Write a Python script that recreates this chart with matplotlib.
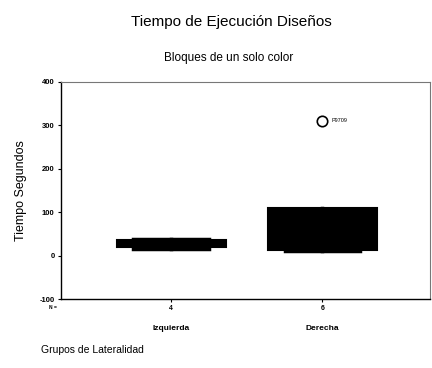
import matplotlib

matplotlib.use("Agg")
import matplotlib.pyplot as plt
import numpy as np

plt.rcParams["font.family"] = ["Liberation Sans", "DejaVu Sans"]

grupos = ["Izquierda", "Derecha"]
n_casos = [4, 6]
bigote_inf = [14, 10]
q1 = [19, 13]
mediana = [27, 40]
q3 = [35, 110]
bigote_sup = [39, 108]
atipico_valor = 310
atipico_etiqueta = "P9709"
yticks = [-100, 0, 100, 200, 300, 400]

fig = plt.figure(figsize=(4.32, 3.68), dpi=100)
ax = fig.add_axes([0.141, 0.1875, 0.854, 0.59])

x = np.arange(1, len(grupos) + 1)
stats = []
for i, g in enumerate(grupos):
    stats.append({"label": g, "whislo": bigote_inf[i], "q1": q1[i], "med": mediana[i],
                  "q3": q3[i], "whishi": bigote_sup[i], "fliers": []})
ax.bxp(stats, positions=x, widths=0.72, patch_artist=True, showfliers=False,
       boxprops=dict(facecolor="black", edgecolor="black", linewidth=1.5),
       medianprops=dict(color="black", linewidth=1.5),
       whiskerprops=dict(color="black", linewidth=2.5),
       capprops=dict(color="black", linewidth=2.5), capwidths=0.5)

ax.plot([x[1]], [atipico_valor], marker="o", markersize=7.5, markerfacecolor="white",
        markeredgecolor="black", markeredgewidth=1.2, linestyle="none")
ax.text(x[1] + 0.06, atipico_valor, atipico_etiqueta, fontsize=4, va="center", ha="left")

ax.set_xlim(0.27, 2.71)
ax.set_ylim(-100, 400)
ax.set_yticks(yticks)
ax.set_yticklabels([str(v) for v in yticks], fontsize=5.5, fontweight="bold")
ax.set_xticks(x)
ax.set_xticklabels([str(n) for n in n_casos], fontsize=5, fontweight="bold")
ax.tick_params(axis="both", length=2.5, width=0.8, pad=2)
for s in ["top", "right"]:
    ax.spines[s].set_color("#777777")
    ax.spines[s].set_linewidth(0.8)
for s in ["left", "bottom"]:
    ax.spines[s].set_linewidth(1.0)

for xi, g in zip(x, grupos):
    ax.text(xi, -0.135, g, transform=ax.get_xaxis_transform(), ha="center", va="center",
            fontsize=6, fontweight="bold")
ax.text(-0.012, -0.04, "N =", transform=ax.transAxes, ha="right", va="center",
        fontsize=3.5, fontweight="bold")

ax.set_ylabel("Tiempo Segundos", fontsize=9, labelpad=9)
fig.text(0.535, 0.94, "Tiempo de Ejecución Diseños", ha="center", va="center", fontsize=11)
fig.text(0.53, 0.842, "Bloques de un solo color", ha="center", va="center", fontsize=8.5)
fig.text(0.095, 0.05, "Grupos de Lateralidad", ha="left", va="center", fontsize=7.5)

fig.savefig("out.png", dpi=100)
plt.close(fig)
